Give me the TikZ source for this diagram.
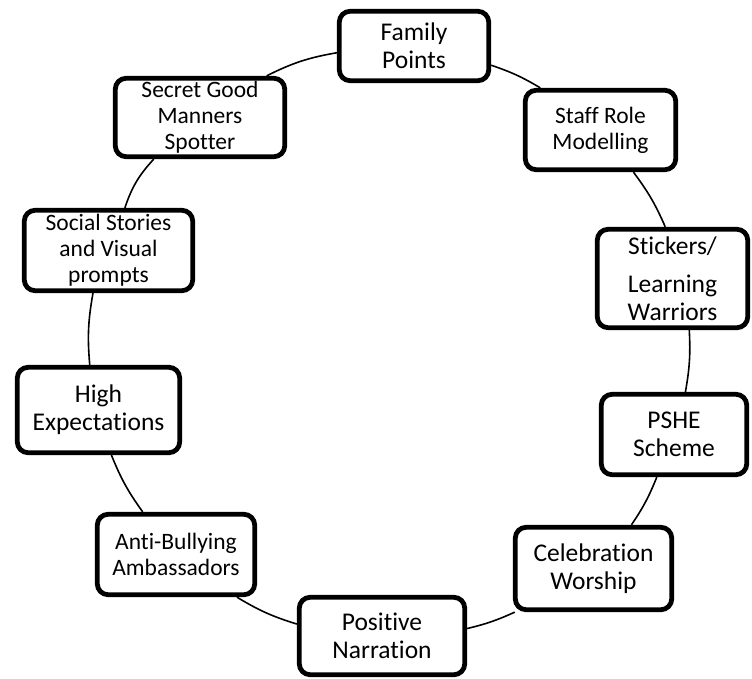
\documentclass[tikz,border=0pt]{standalone}
\usepackage{fontspec}
\setmainfont{Carlito}[Ligatures=CommonOff]
\usetikzlibrary{positioning}
\tikzset{
    item/.style={
    rectangle,rounded corners=11pt,draw=black,line width=4.8pt,fill=white,align=center,inner sep=0pt
    },
    bigtext/.style={
    font=\fontsize{25.5}{28}\selectfont
    },
    smalltext/.style={
    font=\fontsize{23.5}{26}\selectfont
    },
    ring/.style={
    draw=black,line width=1.6pt
    },
}
\begin{document}
\begin{tikzpicture}[x=1pt, y=-1pt]
   \useasboundingbox (0,0) rectangle (752,679);
   \node[item,bigtext,minimum width=149.5,minimum height=69.5] (fam) at (414,46) {Family\\Points};
   \node[item,smalltext,minimum width=150.5,minimum height=79.5] (staff) at (600.5,130) {Staff Role\\Modelling};
   \node[item,bigtext,minimum width=150.5,minimum height=98.5] (stick) at (672.5,278.5) {Stickers/\\[10pt]Learning\\Warriors};
   \node[item,bigtext,minimum width=145.5,minimum height=80.5] (pshe) at (674,434.5) {PSHE\\Scheme};
   \node[item,bigtext,minimum width=156.5,minimum height=82.5] (celeb) at (593.5,568.5) {Celebration\\Worship};
   \node[item,bigtext,minimum width=165.5,minimum height=77.5] (pos) at (382,636) {Positive\\Narration};
   \node[item,smalltext,minimum width=157.5,minimum height=80.5] (anti) at (176,554.5) {Anti-Bullying\\Ambassadors};
   \node[item,bigtext,minimum width=162.5,minimum height=85.5] (high) at (98.5,410) {High\\Expectations};
   \node[item,smalltext,minimum width=168.5,minimum height=80.5] (social) at (108.5,250.5) {Social Stories\\and Visual\\prompts};
   \node[item,smalltext,minimum width=169.5,minimum height=78.5] (secret) at (200,117.5) {Secret Good\\Manners\\Spotter};

  \path[ring]
    (fam.-14) edge[bend left=6] (staff.145)
    (staff.-52) edge[bend left=6.6] (stick.98)
    (stick.-72) edge[bend left=6.5] (pshe.75)
    (pshe.-112) edge[bend left=6.1] (celeb.49)
    (celeb.-151) edge[bend left=5.4] (pos.5)
    (pos.172) edge[bend left=7] (anti.-35)
    (anti.128) edge[bend left=6.9] (high.-74)
    (high.101) edge[bend left=7.5] (social.-110)
    (social.69) edge[bend left=12] (secret.-138)
    (secret.32) edge[bend left=8.4] (fam.185);
\end{tikzpicture}
\end{document}
